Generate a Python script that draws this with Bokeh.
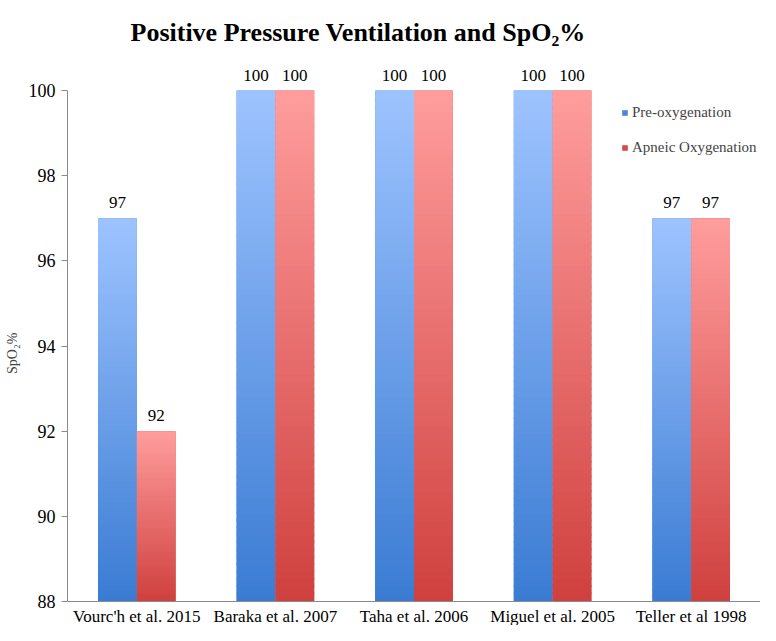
import numpy as np
from bokeh.plotting import figure
from bokeh.models import (ColumnDataSource, Range1d, FixedTicker, LabelSet, Label, Legend, LegendItem)
from bokeh.core.properties import value
from bokeh.embed import file_html
from bokeh.resources import INLINE

# ---- data ----
studies = ["Vourc'h et al. 2015", "Baraka et al. 2007", "Taha et al. 2006",
           "Miguel et al. 2005", "Teller et al 1998"]
pre_oxygenation = [97, 100, 100, 100, 97]
apneic_oxygenation = [92, 100, 100, 100, 97]
y_ticks = [88, 90, 92, 94, 96, 98, 100]
y_min, y_max = 88, 100

FONT = "Liberation Serif"
W, H = 760, 625
LEFT = 67
PX_TOP, PX_BASE = 90, 601          # screen rows of the 100 and 88 levels
ppu = (PX_BASE - PX_TOP) / (y_max - y_min)
n = len(studies)

p = figure(width=W, height=H, output_backend="svg", toolbar_location=None,
           x_range=Range1d(0, n),
           y_range=Range1d(y_min - (H - PX_BASE) / ppu, y_max + PX_TOP / ppu),
           min_border_left=LEFT, min_border_right=0, min_border_top=0, min_border_bottom=0,
           outline_line_color=None)
p.grid.visible = False
p.xaxis.visible = False

# title
p.add_layout(Label(x=63, y=H - 32, x_units="screen", y_units="screen",
                   text="Positive Pressure Ventilation and SpO\u2082%", text_font=FONT,
                   text_font_size="26px", text_font_style="bold", text_color="black",
                   text_baseline="alphabetic", text_align="left"))


def hex2rgb(h):
    h = h.lstrip("#")
    return np.array([int(h[i:i + 2], 16) for i in (0, 2, 4)], dtype=float)


def mix(c0, c1, t):
    c = hex2rgb(c0) * (1 - t) + hex2rgb(c1) * t
    return "#%02x%02x%02x" % tuple(int(round(v)) for v in c)


N = 70
bw = 0.28
series = [
    ("Pre-oxygenation", pre_oxygenation, -bw / 2, "#3a7bd3", "#9ec4ff", "#4a85d8"),
    ("Apneic Oxygenation", apneic_oxygenation, bw / 2, "#cf403e", "#ff9d9d", "#d84a4a"),
]
items = []
L, R, B, T, C = [], [], [], [], []
for name, vals, off, c_bot, c_top, c_leg in series:
    xs = [i + 0.5 + off for i in range(len(vals))]
    base = p.quad(left=[x - bw / 2 for x in xs], right=[x + bw / 2 for x in xs],
                  bottom=y_min, top=vals, fill_color=c_leg, line_color=None)
    items.append(LegendItem(label=name, renderers=[base]))
    for cx, v in zip(xs, vals):
        edges = np.linspace(y_min, v, N + 1)
        for k in range(N):
            L.append(cx - bw / 2)
            R.append(cx + bw / 2)
            B.append(edges[k])
            T.append(min(edges[k + 1] + (v - y_min) * 0.004, v))
            C.append(mix(c_bot, c_top, (k + 0.5) / N))
src = ColumnDataSource(dict(left=L, right=R, bottom=B, top=T, color=C))
p.quad(left="left", right="right", bottom="bottom", top="top", fill_color="color",
       line_color=None, source=src)

# category axis line at the baseline
p.segment(x0=[0], x1=[n], y0=[y_min], y1=[y_min], line_color="#8a8a8a", line_width=1)

# category labels
csrc = ColumnDataSource(dict(x=[i + 0.5 for i in range(n)], y=[y_min] * n, t=studies))
p.add_layout(LabelSet(x="x", y="y", text="t", source=csrc, text_align="center",
                      text_baseline="middle", y_offset=-15, text_font=value(FONT),
                      text_font_size="17px", text_color="black"))

# value labels
lab_x = [i + 0.5 - bw / 2 for i in range(n)] + [i + 0.5 + bw / 2 for i in range(n)]
lab_y = pre_oxygenation + apneic_oxygenation
lab_t = [str(v) for v in lab_y]
lsrc = ColumnDataSource(dict(x=lab_x, y=lab_y, t=lab_t))
p.add_layout(LabelSet(x="x", y="y", text="t", source=lsrc, text_align="center",
                      text_baseline="alphabetic", y_offset=10, text_font=value(FONT),
                      text_font_size="17px", text_color="black"))

legend = Legend(items=items, location=(554, 468), padding=0, margin=0, spacing=15,
                glyph_width=7, glyph_height=7, label_height=20, label_standoff=4,
                label_text_font=FONT, label_text_font_size="15px",
                border_line_alpha=0, background_fill_alpha=0)
p.add_layout(legend, "center")

# value axis
p.yaxis.bounds = (y_min, y_max)
p.yaxis.ticker = FixedTicker(ticks=y_ticks)
p.yaxis.major_tick_out = 6
p.yaxis.major_tick_in = 0
p.yaxis.minor_tick_out = 0
p.yaxis.minor_tick_in = 0
p.yaxis.major_tick_line_color = "#8a8a8a"
p.yaxis.axis_line_color = "#8a8a8a"
p.yaxis.major_label_text_font = FONT
p.yaxis.major_label_text_font_size = "18px"
p.yaxis.major_label_text_color = "black"
p.yaxis.major_label_standoff = 6
p.yaxis.axis_label = "SpO\u2082%" + "\u00a0" * 23
p.yaxis.axis_label_text_font = FONT
p.yaxis.axis_label_text_font_style = "normal"
p.yaxis.axis_label_text_font_size = "14px"
p.yaxis.axis_label_standoff = 6

open("out.html", "w").write(file_html(p, INLINE))
